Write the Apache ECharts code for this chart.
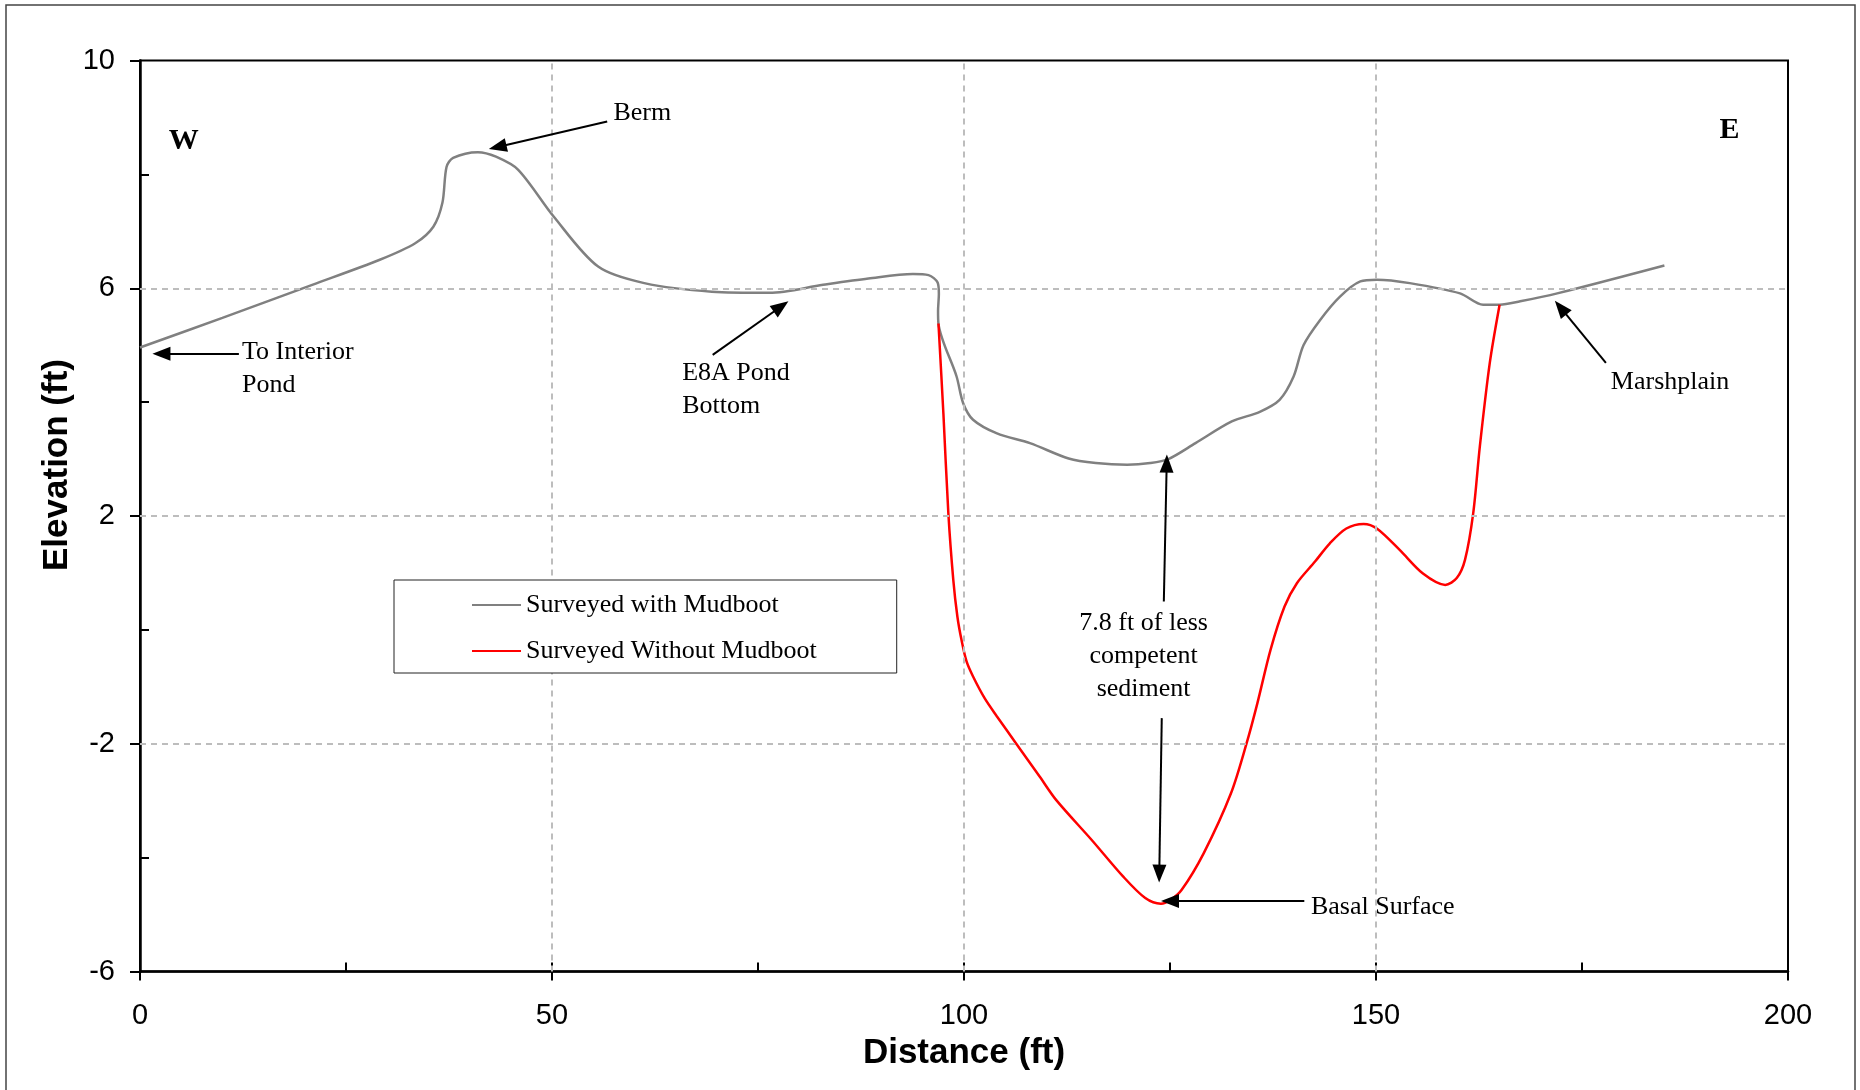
<!DOCTYPE html>
<html><head><meta charset="utf-8">
<script src="https://cdn.jsdelivr.net/npm/echarts@6/dist/echarts.min.js"></script>
<style>html,body{margin:0;padding:0;background:#fff}#c{width:1860px;height:1090px}</style>
</head><body><div id="c"></div>
<script>
// ---------- data ----------
const seriesNames = ['Surveyed with Mudboot', 'Surveyed Without Mudboot'];

const mudbootX = [0, 10, 20.9, 29.1, 33.4, 35.6, 36.7, 37.2, 38.0, 41.0, 43.2, 45.9, 50.2, 55.6, 61.2, 69.4, 76.4, 82.9, 88.4, 93.8, 95.7, 96.8, 96.95, 96.85, 96.9, 99.1, 99.9, 101.1, 104.0, 108.0, 112.7, 116.0, 119.8, 122.6, 124.8, 128.1, 132.5, 135.9, 138.3, 140.0, 141.2, 143.2, 145.6, 148.1, 150.1, 154.1, 160.2, 163.0, 165.0, 167.5, 172.0, 185.0];
const mudbootY = [4.96, 5.48, 6.06, 6.50, 6.79, 7.08, 7.50, 8.13, 8.29, 8.39, 8.31, 8.08, 7.26, 6.38, 6.09, 5.94, 5.92, 6.06, 6.17, 6.25, 6.23, 6.10, 5.90, 5.60, 5.38, 4.45, 3.98, 3.69, 3.45, 3.28, 3.01, 2.93, 2.90, 2.93, 3.00, 3.28, 3.66, 3.83, 4.04, 4.45, 5.00, 5.44, 5.85, 6.12, 6.15, 6.09, 5.91, 5.71, 5.71, 5.77, 5.91, 6.40];

const noMudbootX = [96.9, 97.5, 98.1, 98.7, 99.2, 99.7, 100.3, 101.1, 102.5, 104.0, 106.3, 109.2, 111.2, 115.5, 119.3, 122.0, 123.9, 125.0, 126.4, 129.1, 132.4, 134.3, 135.6, 137.2, 138.9, 140.4, 142.6, 144.4, 146.4, 148.5, 150.1, 152.9, 155.7, 158.4, 159.8, 160.8, 161.8, 162.6, 163.8, 165.0];
const noMudbootY = [5.38, 3.80, 2.05, 0.88, 0.23, -0.18, -0.55, -0.82, -1.20, -1.52, -1.99, -2.58, -2.99, -3.69, -4.33, -4.71, -4.81, -4.75, -4.57, -3.92, -2.87, -1.99, -1.29, -0.35, 0.41, 0.82, 1.20, 1.52, 1.78, 1.86, 1.78, 1.40, 0.99, 0.79, 0.91, 1.23, 2.05, 3.22, 4.68, 5.71];

const xTickValues = [0, 50, 100, 150, 200];
const xMinorTickValues = [0, 25, 50, 75, 100, 125, 150, 175, 200];
const yTickValues = [-6, -2, 2, 6, 10];
const yMinorTickValues = [-4, 0, 4, 8];
const xGridValues = [50, 100, 150];
const yGridValues = [6, 2, -2];

const annoText = ['W', 'E', 'Berm', 'To Interior\nPond', 'E8A Pond\nBottom', '7.8 ft of less\ncompetent\nsediment', 'Basal Surface', 'Marshplain'];
const annoX = [5.3, 192.9, 57.45, 12.38, 65.8, 121.8, 142.1, 178.5];
const annoY = [8.58, 8.77, 9.08, 4.58, 4.21, -0.46, -4.875, 4.35];

const arrowFromX = [56.7, 12.0, 69.5, 124.25, 124.0, 141.3, 177.9];
const arrowFromY = [8.93, 4.85, 4.83, 0.50, -1.55, -4.76, 4.69];
const arrowToX = [43.4, 2.6, 77.8, 124.6, 123.7, 125.0, 172.4];
const arrowToY = [8.48, 4.85, 5.68, 2.92, -4.28, -4.76, 5.66];

// ---------- styles ----------
const SERIF = '"Liberation Serif", "Times New Roman", serif';
const SANS = '"Liberation Sans", Arial, sans-serif';
const annoAlign = ['center', 'center', 'left', 'left', 'left', 'center', 'left', 'left'];
const annoBold = [true, true, false, false, false, false, false, false];

const zip = (xs, ys) => xs.map((x, i) => [x, ys[i]]);
const chart = echarts.init(document.getElementById('c'));

const gridLineStyle = { color: '#bdbdbd', width: 2, type: [6, 5] };
const hiddenAxisParts = { axisLine: { show: false }, axisLabel: { show: false }, splitLine: { show: false } };

chart.setOption({
  animation: false,
  backgroundColor: '#fff',
  grid: { left: 140, right: 72, top: 60.5, bottom: 118.5, show: true, borderColor: '#000', borderWidth: 2, backgroundColor: 'transparent' },
  legend: {
    data: seriesNames, orient: 'vertical', left: 394, top: 580,
    padding: [12, 80, 9, 77], itemWidth: 49, itemHeight: 26, itemGap: 20,
    borderColor: '#222', borderWidth: 1, backgroundColor: '#fff', z: 10,
    itemStyle: { opacity: 0, color: 'rgba(0,0,0,0)', borderWidth: 0 },
    textStyle: { fontFamily: SERIF, fontSize: 26, color: '#000' }
  },
  xAxis: [
    {
      type: 'value', min: 0, max: 200, interval: 50, position: 'bottom',
      axisLine: { onZero: false, lineStyle: { color: '#000', width: 2.5 } },
      axisTick: { show: true, inside: false, length: 9, lineStyle: { color: '#000', width: 2 } },
      axisLabel: { margin: 30, color: '#000', fontFamily: SANS, fontSize: 29 },
      splitLine: { show: false },
      name: 'Distance (ft)', nameLocation: 'middle', nameGap: 62,
      nameTextStyle: { fontFamily: SANS, fontSize: 35, fontWeight: 'bold', color: '#000' }
    },
    {
      type: 'value', min: 0, max: 200, interval: 25, position: 'bottom',
      ...hiddenAxisParts,
      axisLine: { show: false, onZero: false },
      axisTick: { show: true, inside: true, length: 9, customValues: xMinorTickValues, lineStyle: { color: '#000', width: 2 } }
    }
  ],
  yAxis: [
    {
      type: 'value', min: -6, max: 10, interval: 2, position: 'left',
      axisLine: { onZero: false, lineStyle: { color: '#000', width: 2.5 } },
      axisTick: { show: true, inside: false, length: 10, customValues: yTickValues, lineStyle: { color: '#000', width: 2 } },
      axisLabel: { margin: 25, color: '#000', fontFamily: SANS, fontSize: 29, customValues: yTickValues,
        formatter: v => (yTickValues.indexOf(v) >= 0 ? String(v) : '') },
      splitLine: { show: false }
    },
    {
      type: 'value', min: -6, max: 10, interval: 2, position: 'left',
      ...hiddenAxisParts,
      axisLine: { show: false, onZero: false },
      axisTick: { show: true, inside: true, length: 9, customValues: yMinorTickValues, lineStyle: { color: '#000', width: 2 } }
    }
  ],
  series: [
    {
      name: 'gridlines', type: 'line', data: [], z: 1, silent: true,
      markLine: {
        silent: true, symbol: ['none', 'none'], label: { show: false }, animation: false,
        lineStyle: gridLineStyle, emphasis: { disabled: true },
        data: xGridValues.map(v => ({ xAxis: v })).concat(yGridValues.map(v => ({ yAxis: v })))
      }
    },
    {
      name: seriesNames[0], type: 'line', data: zip(mudbootX, mudbootY), z: 3,
      symbol: 'none', smooth: 0.3, color: '#808080',
      lineStyle: { color: '#808080', width: 2.5 }
    },
    {
      name: seriesNames[1], type: 'line', data: zip(noMudbootX, noMudbootY), z: 4,
      symbol: 'none', smooth: 0.3, color: '#ff0000',
      lineStyle: { color: '#ff0000', width: 2.5 }
    },
    {
      name: 'arrows', type: 'line', data: [], z: 5, silent: true,
      markLine: {
        silent: true, symbol: ['none', 'triangle'], symbolSize: [0, 16], label: { show: false }, animation: false,
        lineStyle: { color: '#000', width: 2, type: 'solid' }, itemStyle: { color: '#000' },
        emphasis: { disabled: true },
        data: arrowFromX.map((x, i) => [
          { coord: [x, arrowFromY[i]] },
          { coord: [arrowToX[i], arrowToY[i]], symbol: 'triangle', symbolSize: [14, 18] }
        ])
      }
    }
  ]
});

// annotation texts and y-axis title, positioned through the chart's own scales
const graphics = [
  { type: 'rect', shape: { x: 6, y: 5, width: 1849, height: 1100 }, style: { fill: 'none', stroke: '#444', lineWidth: 1.5 }, z: 100, silent: true },
  { type: 'text', x: 57, y: 465, rotation: Math.PI / 2, z: 100, silent: true,
    style: { text: 'Elevation (ft)', font: 'bold 35px ' + SANS, fill: '#000', align: 'center', textAlign: 'center', verticalAlign: 'middle', textVerticalAlign: 'middle' } }
];
annoText.forEach((t, i) => {
  const p = chart.convertToPixel({ xAxisIndex: 0, yAxisIndex: 0 }, [annoX[i], annoY[i]]);
  graphics.push({
    type: 'text', x: p[0], y: p[1], z: 100, silent: true,
    style: {
      text: t, font: (annoBold[i] ? 'bold 30px ' : '26px ') + SERIF, fill: '#000', lineHeight: 33,
      align: annoAlign[i], textAlign: annoAlign[i], verticalAlign: 'middle', textVerticalAlign: 'middle'
    }
  });
});
chart.setOption({ graphic: graphics });
</script>
</body></html>
